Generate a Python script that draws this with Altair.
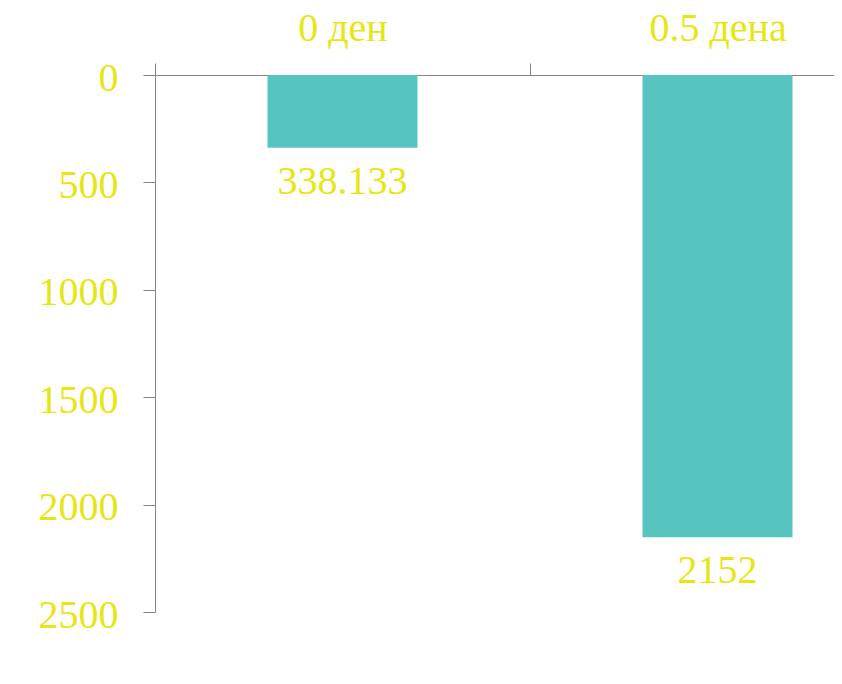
import altair as alt
import pandas as pd

categories = ["0 ден", "0.5 дена"]
values = [338.133, 2152]
value_labels = ["338.133", "2152"]
y_ticks = [0, 500, 1000, 1500, 2000, 2500]

df = pd.DataFrame({"cat": categories, "val": values, "lab": value_labels})

YELLOW = "#e6e614"
BAR = "#56c5bf"
GREY = "#858585"
FONT = "Liberation Serif"

x_enc = alt.X(
    "cat:N",
    sort=None,
    title=None,
    scale=alt.Scale(range=[0, 750], paddingInner=0, paddingOuter=0),
    axis=alt.Axis(
        orient="top",
        labelAngle=0,
        labelFont=FONT,
        labelFontSize=40,
        labelColor=YELLOW,
        labelBaseline="middle",
        labelPadding=35,
        tickSize=12,
        tickColor=GREY,
        tickBand="extent",
        domainColor=GREY,
    ),
)

y_enc = alt.Y(
    "val:Q",
    title=None,
    scale=alt.Scale(domain=[0, 2500], reverse=True, nice=False),
    axis=alt.Axis(
        values=y_ticks,
        format="d",
        labelFont=FONT,
        labelFontSize=40,
        labelColor=YELLOW,
        labelPadding=25,
        labelOffset=3,
        labelBaseline="middle",
        tickSize=12,
        tickColor=GREY,
        domainColor=GREY,
        grid=False,
    ),
)

bars = alt.Chart(df).mark_bar(color=BAR, width=alt.RelativeBandSize(0.4)).encode(x=x_enc, y=y_enc)

labels = alt.Chart(df).mark_text(
    font=FONT, fontSize=40, color=YELLOW, baseline="middle", align="center", dy=34
).encode(x=alt.X("cat:N", sort=None), y=alt.Y("val:Q"), text="lab:N")

chart = (
    alt.layer(bars, labels)
    .properties(
        width=679,
        height=537,
        autosize=alt.AutoSizeParams(type="none"),
        padding={"left": 147, "top": 67, "right": 0, "bottom": 60},
        background="white",
    )
    .configure_view(stroke=None)
)

chart.save("out.html", embed_options={"renderer": "svg", "actions": False})
